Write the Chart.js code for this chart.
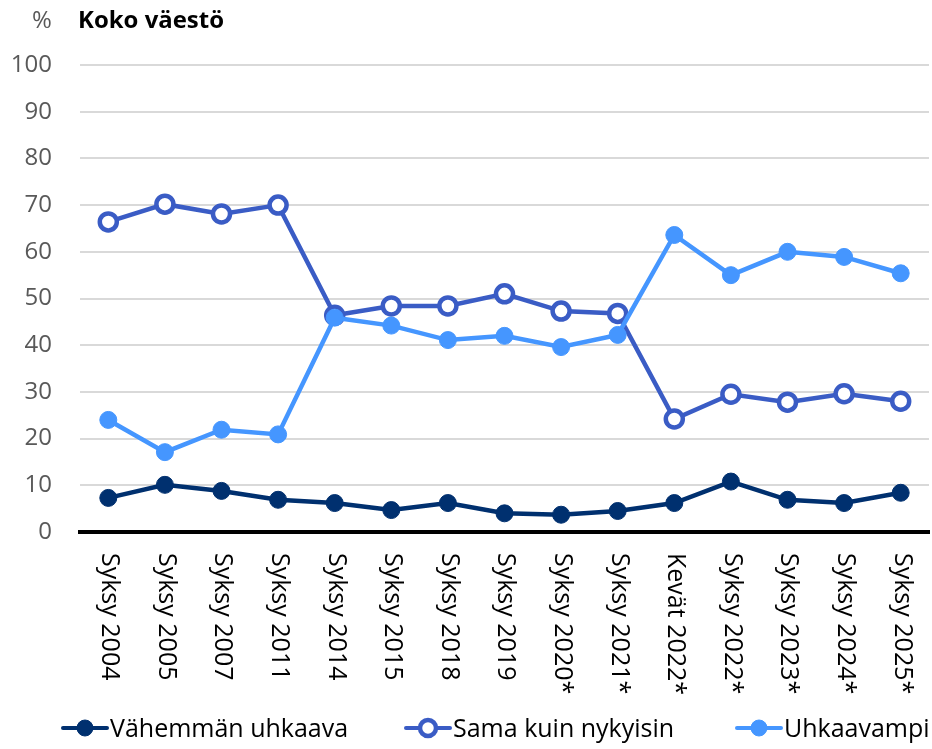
<!DOCTYPE html>
<html>
<head>
<meta charset="utf-8">
<script src="https://cdn.jsdelivr.net/npm/chart.js@4"></script>
<style>
html,body{margin:0;padding:0;background:#fff;}
#c{display:block;}
</style>
</head>
<body>
<canvas id="c" width="932" height="749"></canvas>
<script>
const categories = ["Syksy 2004","Syksy 2005","Syksy 2007","Syksy 2011","Syksy 2014","Syksy 2015","Syksy 2018","Syksy 2019","Syksy 2020*","Syksy 2021*","Kevät 2022*","Syksy 2022*","Syksy 2023*","Syksy 2024*","Syksy 2025*"];
const vahemman = [7.3, 10.1, 8.8, 6.9, 6.2, 4.7, 6.2, 4.0, 3.7, 4.5, 6.2, 10.8, 6.9, 6.2, 8.4];
const sama = [66.4, 70.2, 68.1, 70.0, 46.4, 48.4, 48.4, 51.0, 47.3, 46.8, 24.2, 29.5, 27.8, 29.6, 28.0];
const uhkaavampi = [24.0, 17.1, 21.9, 20.9, 45.9, 44.2, 41.1, 42.0, 39.6, 42.2, 63.6, 55.0, 60.0, 58.9, 55.4];
const seriesNames = ["Vähemmän uhkaava","Sama kuin nykyisin","Uhkaavampi"];
const yTicks = [0,10,20,30,40,50,60,70,80,90,100];
const titleText = "Koko väestö";
const unitText = "%";

const C_DARK = "#00306f", C_MID = "#3a5cc5", C_LIGHT = "#4596ff";
const FONT = "'Open Sans', 'Noto Sans', sans-serif";

const extras = {
  id: 'extras',
  afterDraw(chart) {
    const ctx = chart.ctx;
    const xs = chart.scales.x;
    // rotated category labels (reading top to bottom)
    ctx.save();
    ctx.fillStyle = "#000";
    ctx.font = "25px " + FONT;
    ctx.textAlign = "left";
    ctx.textBaseline = "middle";
    categories.forEach((lab, i) => {
      const x = xs.getPixelForValue(i);
      ctx.save();
      ctx.translate(x + 1, chart.chartArea.bottom + 21);
      ctx.rotate(Math.PI / 2);
      ctx.fillText(lab, 0, 0);
      ctx.restore();
    });
    ctx.restore();

    // unit and title
    ctx.save();
    ctx.textBaseline = "alphabetic";
    ctx.fillStyle = "#595959";
    ctx.font = "24px " + FONT;
    ctx.textAlign = "left";
    ctx.fillText(unitText, 32, 28);
    ctx.fillStyle = "#000";
    ctx.font = "bold 23px " + FONT;
    const w = ctx.measureText(titleText).width;
    ctx.translate(78, 28);
    ctx.scale(146 / w, 1);
    ctx.fillText(titleText, 0, 0);
    ctx.restore();

    // legend
    const starts = [63, 406, 737];
    ctx.save();
    chart.data.datasets.forEach((ds, i) => {
      const x0 = starts[i], y = 728;
      ctx.strokeStyle = ds.borderColor;
      ctx.lineWidth = 4;
      ctx.lineCap = "round";
      ctx.beginPath();
      ctx.moveTo(x0, y);
      ctx.lineTo(x0 + 44, y);
      ctx.stroke();
      ctx.beginPath();
      ctx.arc(x0 + 22, y, ds.pointRadius - 0.5, 0, Math.PI * 2);
      ctx.fillStyle = ds.pointBackgroundColor;
      ctx.fill();
      ctx.lineWidth = ds.pointBorderWidth;
      ctx.strokeStyle = ds.pointBorderColor;
      ctx.stroke();
      ctx.fillStyle = "#000";
      ctx.font = "25px " + FONT;
      ctx.textAlign = "left";
      ctx.textBaseline = "alphabetic";
      ctx.fillText(ds.label, x0 + 47, 737);
    });
    ctx.restore();
  }
};

new Chart(document.getElementById('c'), {
  type: 'line',
  data: {
    labels: categories,
    datasets: [
      { label: seriesNames[0], data: vahemman, borderColor: C_DARK, backgroundColor: C_DARK,
        pointBackgroundColor: C_DARK, pointBorderColor: C_DARK, pointBorderWidth: 1,
        pointRadius: 8.5, borderWidth: 4.5, tension: 0, order: 3 },
      { label: seriesNames[1], data: sama, borderColor: C_MID, backgroundColor: "#fff",
        pointBackgroundColor: "#fff", pointBorderColor: C_MID, pointBorderWidth: 4.5,
        pointRadius: 8.5, borderWidth: 4.5, tension: 0, order: 2 },
      { label: seriesNames[2], data: uhkaavampi, borderColor: C_LIGHT, backgroundColor: C_LIGHT,
        pointBackgroundColor: C_LIGHT, pointBorderColor: C_LIGHT, pointBorderWidth: 1,
        pointRadius: 8.5, borderWidth: 4.5, tension: 0, order: 1 }
    ]
  },
  options: {
    responsive: false,
    animation: false,
    devicePixelRatio: 1,
    layout: { autoPadding: false, padding: { top: 65, bottom: 217, left: 0, right: 3 } },
    plugins: { legend: { display: false }, tooltip: { enabled: false }, title: { display: false } },
    scales: {
      x: {
        offset: true,
        grid: { display: false, drawTicks: false },
        ticks: { display: false },
        border: { display: true, color: "#000", width: 4 },
        afterFit: s => { s.height = 0; s.paddingLeft = 0; s.paddingRight = 0; }
      },
      y: {
        min: 0, max: 100,
        afterBuildTicks: s => { s.ticks = yTicks.map(v => ({ value: v })); },
        ticks: { color: "#595959", font: { family: FONT, size: 24 }, padding: 28 },
        grid: { color: "#d9d9d9", lineWidth: 2, drawTicks: false },
        border: { display: false },
        afterFit: s => { s.width = 80; s.paddingTop = 0; s.paddingBottom = 0; }
      }
    }
  },
  plugins: [extras]
});
</script>
</body>
</html>
